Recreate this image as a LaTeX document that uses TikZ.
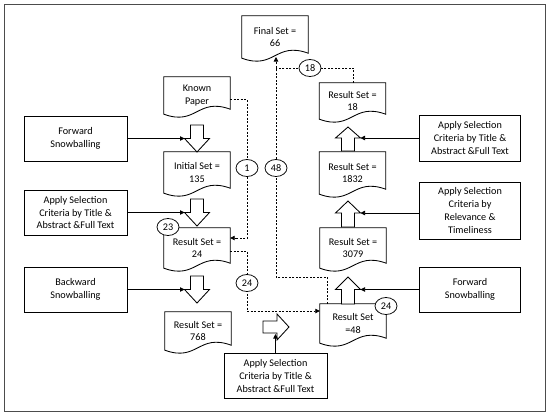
\documentclass[tikz,border=0pt]{standalone}
\usepackage{fontspec}
\setmainfont{Carlito}
\usetikzlibrary{arrows.meta,calc,shapes.geometric}

\newcommand\docoutline[1]{\draw[line width=0.85pt] (#1.south west) -- (#1.north west) -- (#1.north east) -- ([yshift=5pt]#1.south east) .. controls +(-33,-12) and +(33,12) .. (#1.south west) -- cycle;}
\newcommand\blockv[4]{\draw[blk] (#1-6.5,#2) -- (#1+6.5,#2) -- (#1+6.5,#3) -- (#1+12.5,#3) -- (#1,#4) -- (#1-12.5,#3) -- (#1-6.5,#3) -- cycle;}

\begin{document}
\begin{tikzpicture}[x=1pt,y=-1pt,
  font=\fontsize{10.2}{12.7}\selectfont,
  box/.style={draw, line width=0.85pt, align=center, inner sep=0pt, minimum width=103pt, minimum height=45pt},
  docnode/.style={align=center, inner sep=0pt, minimum width=66pt},
  badge/.style={draw, ellipse, fill=white, minimum width=22pt, minimum height=17pt, inner sep=0pt, line width=0.75pt},
  conn/.style={-{Triangle[length=4.5pt,width=4.5pt]}, line width=0.75pt},
  dl/.style={dash pattern=on 2pt off 1.5pt, line width=0.7pt},
  blk/.style={draw, fill=white, line width=0.85pt}
]
\useasboundingbox (0,0) rectangle (550,416);
\draw[line width=1pt, black!70] (4,4) rectangle (545,411);

% left boxes
\node[box] (fsl) at (75.5,138.5) {Forward\\Snowballing};
\node[box] (asl) at (75.5,212.5) {Apply Selection\\Criteria by Title \&\\Abstract \&Full Text};
\node[box] (bsl) at (75.5,289.5) {Backward\\Snowballing};
\node[box] (asb) at (275.5,376) {Apply Selection\\Criteria by Title \&\\Abstract \&Full Text};
% right boxes
\node[box, minimum width=101pt, minimum height=46pt] (asr) at (470,138) {Apply Selection\\Criteria by Title \&\\Abstract \&Full Text};
\node[box, minimum width=101pt, minimum height=57pt] (relr) at (470,210.5) {Apply Selection\\Criteria by\\Relevance \&\\Timeliness};
\node[box, minimum width=101pt] (fsr) at (470,289.5) {Forward\\Snowballing};

% documents
\node[docnode, minimum height=42pt] (final) at (275,37) {Final Set =\\66};
\node[docnode, minimum height=37pt] (known) at (197,95.5) {Known\\Paper};
\node[docnode, minimum height=41pt] (init) at (197,172.5) {Initial Set =\\135};
\node[docnode, minimum height=40pt] (rs24) at (197,248) {Result Set =\\24};
\node[docnode, minimum height=38pt] (rs768) at (198,331) {Result Set =\\768};
\node[docnode, minimum height=36pt] (rs18) at (352.5,101) {Result Set =\\18};
\node[docnode, minimum height=42pt] (rs1832) at (352.5,173) {Result Set =\\1832};
\node[docnode, minimum height=40pt] (rs3079) at (353,248) {Result Set =\\3079};
\node[docnode, minimum height=39pt] (rs48) at (353,323.5) {Result Set\\=48};
\foreach \n in {final,known,init,rs24,rs768,rs18,rs1832,rs3079,rs48} {\docoutline{\n}}

% block arrows
\blockv{197}{125}{138.5}{152}
\blockv{197}{199}{212.5}{226}
\blockv{197}{276}{289.5}{303}
\blockv{348}{304}{289.5}{277}
\blockv{348}{227}{213}{201}
\blockv{348}{151}{138}{127}
\draw[blk] (263,321) -- (277,321) -- (277,314) -- (289,327) -- (277,340) -- (277,333) -- (263,333) -- cycle;

\coordinate (h1) at (184.5,138.5);
\coordinate (h2) at (184.5,212.5);
\coordinate (h3) at (184.5,289.5);
\coordinate (u1) at (360.5,289.5);
\coordinate (u2) at (360.5,213);
\coordinate (u3) at (360.5,138);
\coordinate (rb) at (275.5,334);
\coordinate (fintip) at (276,57);

% solid connectors
\draw[conn] (fsl.east) -- (h1);
\draw[conn] (asl.east) -- (h2);
\draw[conn] (bsl.east) -- (h3);
\draw[conn] (asr.west |- u3) -- (u3);
\draw[conn] (relr.west |- u2) -- (u2);
\draw[conn] (fsr.west |- u1) -- (u1);
\draw[conn] (asb.north) -- (rb);

% dashed connectors
\draw[dl,conn] ([yshift=-4pt]known.east) -- ++(17,0) |- ([yshift=10pt]rs24.east);
\draw[dl,conn] ([yshift=-3pt]rs24.east) -- ++(17,0) |- ([yshift=12.5pt]rs48.west);
\draw[dl,conn] ([xshift=-26pt]rs48.north) |- (276,277) -- (fintip);
\draw[dl] ([xshift=1pt]rs18.north) |- (276,68);

% badges
\node[badge] (b1) at (247,168) {1};
\node[badge] (b24a) at (247,283) {24};
\node[badge] (b48) at (276,168) {48};
\node[badge] (b18) at (310,68) {18};
\node[badge] (b23) at (168,227) {23};
\node[badge] (b24b) at (386,306) {24};
\end{tikzpicture}
\end{document}
